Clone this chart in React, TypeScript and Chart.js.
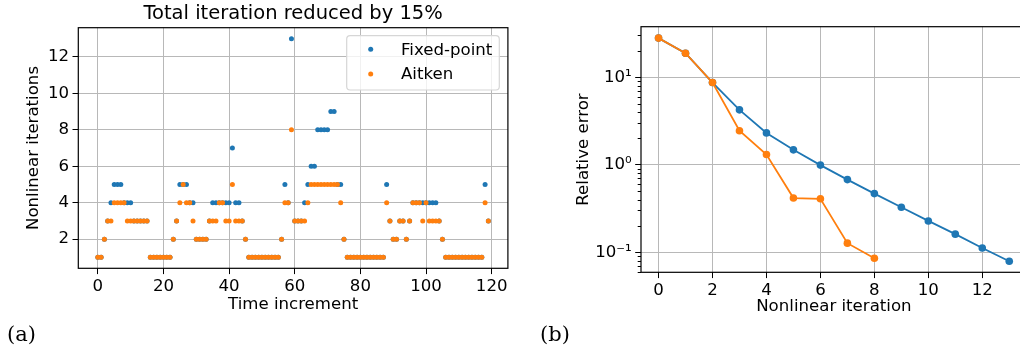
import React, { useEffect, useRef } from "react";
import { Chart, registerables } from "chart.js";

Chart.register(...registerables);

const FONT_FAMILY = "'DejaVu Sans', sans-serif";
const SERIF_FAMILY = "'DejaVu Serif', serif";
const FONT_SIZE = 16.6;
const TITLE_SIZE = 19.5;
const BLUE = "#1f77b4";
const ORANGE = "#ff7f0e";
const GRID = "#b8b8b8";

// ---------- Panel (a) data ----------
const fixedPointIterations = [
  1, 1, 2, 3, 4, 5, 5, 5, 4, 4,
  4, 3, 3, 3, 3, 3, 1, 1, 1, 1,
  1, 1, 1, 2, 3, 5, 5, 5, 4, 4,
  2, 2, 2, 2, 3, 4, 4, 4, 4, 4,
  4, 7, 4, 4, 3, 2, 1, 1, 1, 1,
  1, 1, 1, 1, 1, 1, 2, 5, 4, 13,
  3, 3, 3, 4, 5, 6, 6, 8, 8, 8,
  8, 9, 9, 5, 5, 2, 1, 1, 1, 1,
  1, 1, 1, 1, 1, 1, 1, 1, 5, 3,
  2, 2, 3, 3, 2, 3, 4, 4, 4, 4,
  4, 4, 4, 4, 3, 2, 1, 1, 1, 1,
  1, 1, 1, 1, 1, 1, 1, 1, 5, 3,
];
const aitkenIterations = [
  1, 1, 2, 3, 3, 4, 4, 4, 4, 3,
  3, 3, 3, 3, 3, 3, 1, 1, 1, 1,
  1, 1, 1, 2, 3, 4, 5, 4, 4, 3,
  2, 2, 2, 2, 3, 3, 3, 4, 4, 3,
  3, 5, 3, 3, 3, 2, 1, 1, 1, 1,
  1, 1, 1, 1, 1, 1, 2, 4, 4, 8,
  3, 3, 3, 3, 4, 5, 5, 5, 5, 5,
  5, 5, 5, 5, 4, 2, 1, 1, 1, 1,
  1, 1, 1, 1, 1, 1, 1, 1, 4, 3,
  2, 2, 3, 3, 2, 3, 4, 4, 4, 3,
  4, 3, 3, 3, 3, 2, 1, 1, 1, 1,
  1, 1, 1, 1, 1, 1, 1, 1, 4, 3,
];
const timeIncrements = fixedPointIterations.map((_, i) => i);
const timeTicks = [0, 20, 40, 60, 80, 100, 120];
const iterationTicks = [2, 4, 6, 8, 10, 12];
const titleA = "Total iteration reduced by 15%";
const seriesLabels = ["Fixed-point", "Aitken"];

// ---------- Panel (b) data ----------
const nonlinearIterations = [0, 1, 2, 3, 4, 5, 6, 7, 8, 9, 10, 11, 12, 13];
const fixedPointError = [28, 18.8, 8.7, 4.24, 2.31, 1.48, 0.99, 0.676, 0.468, 0.327, 0.228, 0.161, 0.112, 0.0789];
const aitkenError = [28, 18.8, 8.7, 2.45, 1.31, 0.416, 0.408, 0.127, 0.0853];
const nonlinearTicks = [0, 2, 4, 6, 8, 10, 12];
const errorTicks = [0.1, 1, 10];
const errorTickLabels = ["10\u207B\u00B9", "10\u2070", "10\u00B9"];

const axisFont = () => ({ family: FONT_FAMILY, size: FONT_SIZE });
const setTicks = (values: number[]) => (scale: any) => {
  scale.ticks = values.map((v) => ({ value: v }));
};

const gridOpts = () => ({
  color: GRID,
  lineWidth: 1,
  drawTicks: true,
  tickLength: 5.8,
  tickColor: "#000",
  tickWidth: 1,
});

function drawFrame(chart: any) {
  const { ctx, chartArea: a } = chart;
  ctx.save();
  ctx.strokeStyle = "#000";
  ctx.lineWidth = 1.2;
  ctx.strokeRect(a.left, a.top, a.right - a.left, a.bottom - a.top);
  ctx.restore();
}

function drawPanelLabel(chart: any, text: string, x: number) {
  const { ctx } = chart;
  ctx.save();
  ctx.fillStyle = "#000";
  ctx.font = `21px ${SERIF_FAMILY}`;
  ctx.textAlign = "left";
  ctx.textBaseline = "alphabetic";
  ctx.fillText(text, x, 341);
  ctx.restore();
}

const panelAPlugin = {
  id: "panelA",
  afterDraw(chart: any) {
    const { ctx, chartArea: a } = chart;
    drawFrame(chart);
    ctx.save();
    // title
    ctx.fillStyle = "#000";
    ctx.font = `${TITLE_SIZE}px ${FONT_FAMILY}`;
    ctx.textAlign = "center";
    ctx.textBaseline = "alphabetic";
    ctx.fillText(titleA, (a.left + a.right) / 2, 18.5);
    // legend
    ctx.font = `${FONT_SIZE}px ${FONT_FAMILY}`;
    const bx = a.right - 161.2;
    const by = a.top + 8;
    const bw = 152.6;
    const bh = 54.3;
    ctx.beginPath();
    ctx.roundRect(bx, by, bw, bh, 3.5);
    ctx.fillStyle = "rgba(255,255,255,0.8)";
    ctx.fill();
    ctx.strokeStyle = "#d6d6d6";
    ctx.lineWidth = 1.2;
    ctx.stroke();
    const colors = [BLUE, ORANGE];
    seriesLabels.forEach((label, i) => {
      const cy = by + 13.6 + i * 24.7;
      ctx.beginPath();
      ctx.arc(bx + 24, cy, 2.5, 0, Math.PI * 2);
      ctx.fillStyle = colors[i];
      ctx.fill();
      ctx.fillStyle = "#000";
      ctx.textAlign = "left";
      ctx.textBaseline = "middle";
      ctx.fillText(label, bx + 54.3, cy + 1);
    });
    ctx.restore();
    drawPanelLabel(chart, "(a)", 7);
  },
};

const panelBPlugin = {
  id: "panelB",
  afterDraw(chart: any) {
    const { ctx, chartArea: a } = chart;
    drawFrame(chart);
    const y = chart.scales.y;
    ctx.save();
    ctx.strokeStyle = "#000";
    ctx.lineWidth = 1;
    for (let d = -2; d <= 1; d++) {
      for (let k = 2; k <= 9; k++) {
        const v = k * Math.pow(10, d);
        if (v < y.min || v > y.max) continue;
        const py = Math.round(y.getPixelForValue(v)) + 0.5;
        ctx.beginPath();
        ctx.moveTo(a.left, py);
        ctx.lineTo(a.left - 3.3, py);
        ctx.stroke();
      }
    }
    ctx.restore();
    drawPanelLabel(chart, "(b)", 20);
  },
};

export default function App() {
  const refA = useRef<HTMLCanvasElement | null>(null);
  const refB = useRef<HTMLCanvasElement | null>(null);

  useEffect(() => {
    Chart.defaults.font.family = FONT_FAMILY;
    Chart.defaults.color = "#000";

    const chartA = new Chart(refA.current as HTMLCanvasElement, {
      type: "scatter",
      data: {
        datasets: [
          {
            label: seriesLabels[0],
            data: timeIncrements.map((t, i) => ({ x: t, y: fixedPointIterations[i] })),
            backgroundColor: BLUE,
            borderColor: BLUE,
            pointRadius: 2.5,
            pointBorderWidth: 0,
            order: 1,
          },
          {
            label: seriesLabels[1],
            data: timeIncrements.map((t, i) => ({ x: t, y: aitkenIterations[i] })),
            backgroundColor: ORANGE,
            borderColor: ORANGE,
            pointRadius: 2.5,
            pointBorderWidth: 0,
            order: 0,
          },
        ],
      },
      options: {
        responsive: false,
        animation: false,
        devicePixelRatio: 1,
        events: [],
        layout: { padding: { left: 0, top: 27.7, right: 520 - 507.9, bottom: 0 } },
        plugins: { legend: { display: false }, tooltip: { enabled: false }, title: { display: false } },
        scales: {
          x: {
            type: "linear",
            position: "bottom",
            min: -5.95,
            max: 124.95,
            afterBuildTicks: setTicks(timeTicks),
            afterFit: (s: any) => {
              s.height = 350 - 268.3;
            },
            grid: gridOpts(),
            border: { display: false },
            ticks: { color: "#000", font: axisFont(), padding: 3, maxRotation: 0, autoSkip: false },
            title: {
              display: true,
              text: "Time increment",
              color: "#000",
              font: axisFont(),
              padding: { top: 0, bottom: 35 },
            },
          },
          y: {
            type: "linear",
            position: "left",
            min: 0.4,
            max: 13.6,
            afterBuildTicks: setTicks(iterationTicks),
            afterFit: (s: any) => {
              s.width = 78.3;
            },
            grid: gridOpts(),
            border: { display: false },
            ticks: { color: "#000", font: axisFont(), padding: 3.5, autoSkip: false },
            title: {
              display: true,
              text: "Nonlinear iterations",
              color: "#000",
              font: axisFont(),
              padding: { top: 24, bottom: 0 },
            },
          },
        },
      },
      plugins: [panelAPlugin],
    } as any);

    const chartB = new Chart(refB.current as HTMLCanvasElement, {
      type: "scatter",
      data: {
        datasets: [
          {
            label: seriesLabels[0],
            data: nonlinearIterations.map((t, i) => ({ x: t, y: fixedPointError[i] })),
            backgroundColor: BLUE,
            borderColor: BLUE,
            showLine: true,
            borderWidth: 1.8,
            pointRadius: 3.8,
            pointBorderWidth: 0,
            order: 1,
          },
          {
            label: seriesLabels[1],
            data: aitkenError.map((v, i) => ({ x: nonlinearIterations[i], y: v })),
            backgroundColor: ORANGE,
            borderColor: ORANGE,
            showLine: true,
            borderWidth: 1.8,
            pointRadius: 3.8,
            pointBorderWidth: 0,
            order: 0,
          },
        ],
      },
      options: {
        responsive: false,
        animation: false,
        devicePixelRatio: 1,
        events: [],
        layout: { padding: { left: 0, top: 26.7, right: 520 - 506.8, bottom: 0 } },
        plugins: { legend: { display: false }, tooltip: { enabled: false }, title: { display: false } },
        scales: {
          x: {
            type: "linear",
            position: "bottom",
            min: -0.65,
            max: 13.65,
            afterBuildTicks: setTicks(nonlinearTicks),
            afterFit: (s: any) => {
              s.height = 350 - 272.3;
            },
            grid: gridOpts(),
            border: { display: false },
            ticks: { color: "#000", font: axisFont(), padding: 3, maxRotation: 0, autoSkip: false },
            title: {
              display: true,
              text: "Nonlinear iteration",
              color: "#000",
              font: axisFont(),
              padding: { top: 0, bottom: 33 },
            },
          },
          y: {
            type: "logarithmic",
            position: "left",
            min: 0.059,
            max: 37.8,
            afterBuildTicks: setTicks(errorTicks),
            afterFit: (s: any) => {
              s.width = 121;
            },
            grid: gridOpts(),
            border: { display: false },
            ticks: {
              color: "#000",
              font: axisFont(),
              padding: 3.5,
              autoSkip: false,
              callback: (_v: any, i: number) => errorTickLabels[i],
            },
            title: {
              display: true,
              text: "Relative error",
              color: "#000",
              font: axisFont(),
              padding: { top: 54, bottom: 0 },
            },
          },
        },
      },
      plugins: [panelBPlugin],
    } as any);

    return () => {
      chartA.destroy();
      chartB.destroy();
    };
  }, []);

  return (
    <div
      style={{
        position: "absolute",
        left: 0,
        top: 0,
        width: 1020,
        height: 350,
        overflow: "hidden",
        background: "#fff",
      }}
    >
      <canvas
        ref={refA}
        width={520}
        height={350}
        style={{ position: "absolute", left: 0, top: 0, width: 520, height: 350 }}
      />
      <canvas
        ref={refB}
        width={520}
        height={350}
        style={{ position: "absolute", left: 520, top: 0, width: 520, height: 350 }}
      />
    </div>
  );
}
